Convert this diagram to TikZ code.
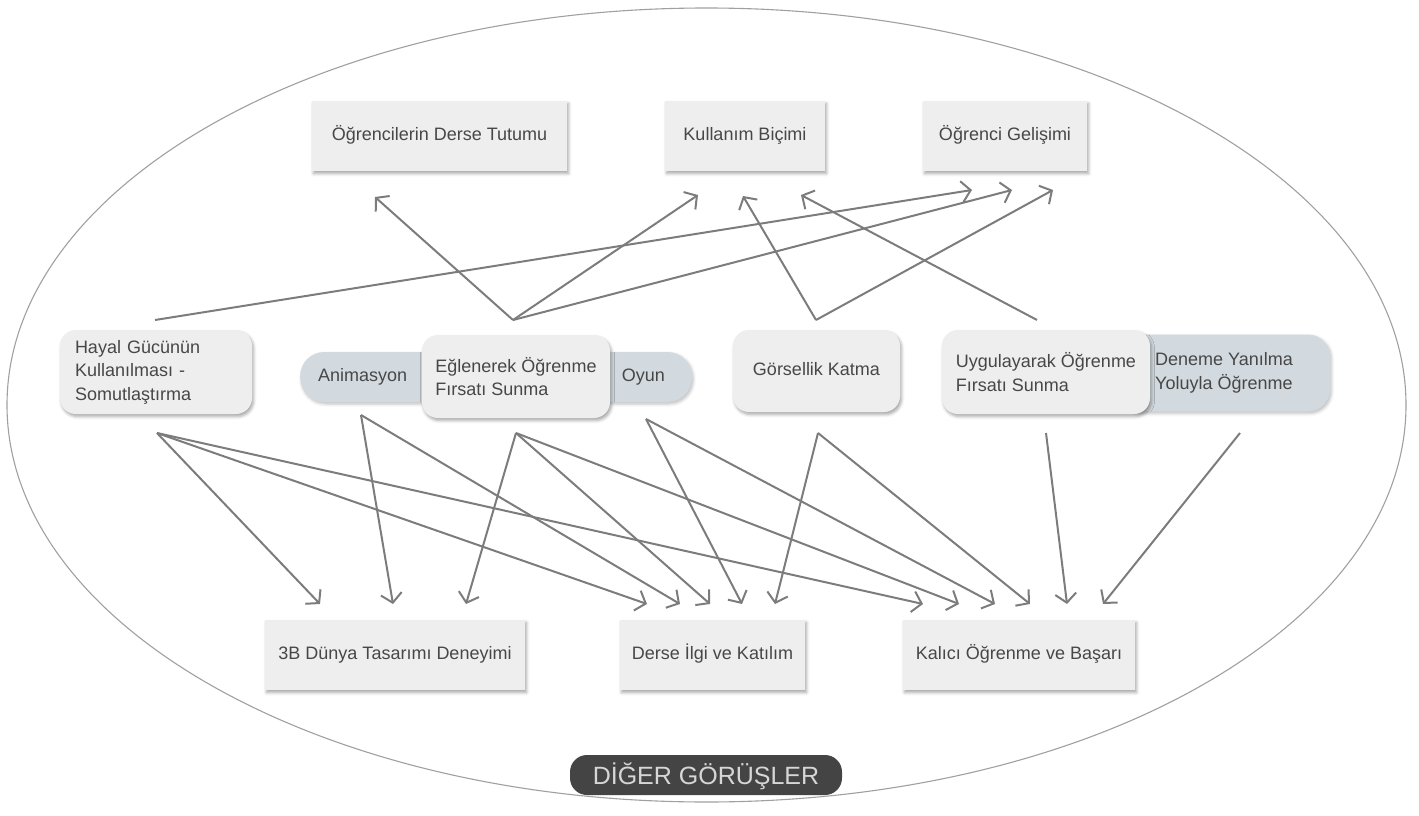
\documentclass[tikz,border=0pt]{standalone}
\usepackage{fontspec}
\setmainfont{Liberation Sans}
\usetikzlibrary{arrows.meta,shadows.blur}
\definecolor{boxfill}{HTML}{EEEEEE}
\definecolor{pillfill}{HTML}{D3DADF}
\definecolor{txt}{HTML}{474747}
\definecolor{arr}{HTML}{7C7C7C}
\definecolor{ell}{HTML}{A0A0A0}
\definecolor{lblfill}{HTML}{444444}
\definecolor{lbltxt}{HTML}{D6D6D6}
\begin{document}
\begin{tikzpicture}[x=1pt,y=-1pt,
  every node/.style={font=\fontsize{18}{23.5}\selectfont, text=txt, inner sep=0pt},
  sq/.style={fill=boxfill, blur shadow={shadow xshift=1.5pt, shadow yshift=-2.5pt, shadow blur radius=3pt, shadow opacity=35}},
  one/.style={text height=13pt, text depth=4pt},
  rbox/.style={sq, rounded corners=16pt},
  pill/.style={fill=pillfill, rounded corners=24pt, blur shadow={shadow xshift=1.5pt, shadow yshift=-2pt, shadow blur radius=3pt, shadow opacity=25}},
  conn/.style={draw=arr, line width=2pt, -{Straight Barb[length=9pt,width=21pt,line width=2pt]}},
]
\useasboundingbox (0,0) rectangle (1419,816);
\draw[ell, line width=1.1pt] (706.5,405) ellipse [x radius=699.5pt, y radius=397pt];

% top boxes
\node[sq, one, minimum width=255, minimum height=70] (t1) at (439.5,136) {Öğrencilerin Derse Tutumu};
\node[sq, one, minimum width=160, minimum height=70] (t2) at (745,136) {Kullanım Biçimi};
\node[sq, one, minimum width=164, minimum height=70] (t3) at (1005,136) {Öğrenci Gelişimi};

% middle row
\node[pill, one, minimum height=50, anchor=west] (ani) at (300,377) {\hspace*{18pt}Animasyon\hspace*{94pt}};
\node[pill, one, minimum height=50, anchor=east] (oyu) at (692,377) {\hspace*{92pt}Oyun\hspace*{27pt}};
\node[pill, rounded corners=22pt, minimum width=212, minimum height=77, align=left] (den) at (1224,373) {Deneme Yanılma\\Yoluyla Öğrenme};
\node[rbox, minimum width=192, minimum height=84, text width=162, align=left] (hay) at (156,372) {Hayal Gücünün\\Kullanılması -\\Somutlaştırma};
\node[rbox, minimum width=188, minimum height=83, align=left] (egl) at (516,376.5) {Eğlenerek Öğrenme\\Fırsatı Sunma};
\node[rbox, one, minimum width=167, minimum height=82] (gor) at (816.5,371) {Görsellik Katma};
\node[rbox, minimum width=208, minimum height=84, align=left] (uyg) at (1046,372) {Uygulayarak Öğrenme\\Fırsatı Sunma};

% bottom boxes
\node[sq, one, minimum width=260, minimum height=70] (b1) at (395,655) {3B Dünya Tasarımı Deneyimi};
\node[sq, one, minimum width=185, minimum height=70] (b2) at (712.5,655) {Derse İlgi ve Katılım};
\node[sq, one, minimum width=232, minimum height=70] (b3) at (1019,655) {Kalıcı Öğrenme ve Başarı};

% label
\node[fill=lblfill, rounded corners=17pt, minimum width=272, minimum height=40, text height=18pt, text depth=0pt, text=lbltxt, font=\fontsize{25}{28}\selectfont] (lbl) at (706,775) {DİĞER GÖRÜŞLER};

% connector end points
\coordinate (hayT) at (155,320);
\coordinate (eglT) at (513,320);
\coordinate (gorT) at (816,320);
\coordinate (uygT) at (1037,320);
\coordinate (hayB) at (157,433);
\coordinate (aniB) at (361,415);
\coordinate (eglB) at (516,433);
\coordinate (oyuB) at (646,419);
\coordinate (gorB) at (818,433);
\coordinate (uygB) at (1046,433);
\coordinate (denB) at (1240,433);

\coordinate (t1a) at (375,197);
\coordinate (t2a) at (698,195);
\coordinate (t2b) at (743,196);
\coordinate (t2c) at (801,195);
\coordinate (t3a) at (972,190);
\coordinate (t3b) at (1012,190);
\coordinate (t3c) at (1053,190);

\coordinate (b1a) at (320,604);
\coordinate (b1b) at (393,604);
\coordinate (b1c) at (466,604);
\coordinate (b2a) at (647,604);
\coordinate (b2b) at (680,604);
\coordinate (b2c) at (710,604);
\coordinate (b2d) at (742,604);
\coordinate (b2e) at (775,604);
\coordinate (b3a) at (923,604);
\coordinate (b3b) at (959,604);
\coordinate (b3c) at (995,604);
\coordinate (b3d) at (1030,604);
\coordinate (b3e) at (1067,604);
\coordinate (b3f) at (1103,604);

% top connectors
\draw[conn] (hayT) -- (t3a);
\draw[conn] (eglT) -- (t1a);
\draw[conn] (eglT) -- (t2a);
\draw[conn] (eglT) -- (t3b);
\draw[conn] (gorT) -- (t2b);
\draw[conn] (gorT) -- (t3c);
\draw[conn] (uygT) -- (t2c);

% bottom connectors
\draw[conn] (hayB) -- (b1a);
\draw[conn] (hayB) -- (b2a);
\draw[conn] (hayB) -- (b3a);
\draw[conn] (aniB) -- (b1b);
\draw[conn] (aniB) -- (b2b);
\draw[conn] (eglB) -- (b1c);
\draw[conn] (eglB) -- (b2c);
\draw[conn] (eglB) -- (b3b);
\draw[conn] (oyuB) -- (b2d);
\draw[conn] (oyuB) -- (b3c);
\draw[conn] (gorB) -- (b2e);
\draw[conn] (gorB) -- (b3d);
\draw[conn] (uygB) -- (b3e);
\draw[conn] (denB) -- (b3f);
\end{tikzpicture}
\end{document}
